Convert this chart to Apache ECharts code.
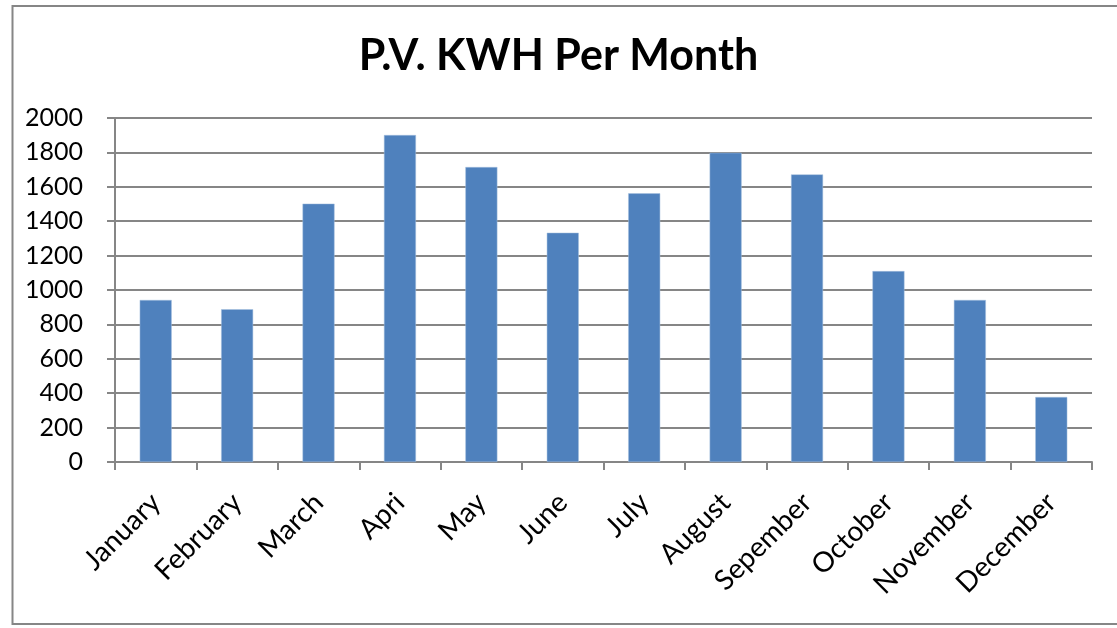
<!DOCTYPE html>
<html>
<head>
<meta charset="utf-8">
<title>P.V. KWH Per Month</title>
<script src="https://cdn.jsdelivr.net/npm/echarts@6/dist/echarts.min.js"></script>
<style>
  html, body { margin: 0; padding: 0; background: #fff; }
  #chart { width: 1117px; height: 628px; }
</style>
</head>
<body>
<div id="chart"></div>
<script>
// labels kept as they appear in the source chart
var months = ['January', 'February', 'March', 'Apri', 'May', 'June',
              'July', 'August', 'Sepember', 'October', 'November', 'December'];
var kwh = [942, 888, 1502, 1901, 1715, 1333, 1562, 1798, 1672, 1110, 942, 378];
var yTicks = [0, 200, 400, 600, 800, 1000, 1200, 1400, 1600, 1800, 2000];

var axisGray = '#868686';

var chart = echarts.init(document.getElementById('chart'));
var option = {
    animation: false,
    backgroundColor: '#fff',
    title: {
        text: 'P.V. KWH Per Month',
        left: 'center',
        top: 30,
        textStyle: {
            fontFamily: 'Lato',
            fontWeight: 'bold',
            fontSize: 43,
            color: '#000'
        }
    },
    graphic: [{
        type: 'rect',
        shape: { x: 12.5, y: 6, width: 1130, height: 618 },
        style: { fill: 'none', stroke: axisGray, lineWidth: 2 },
        silent: true
    }],
    grid: {
        left: 115,
        right: 25,
        top: 118,
        bottom: 166,
        containLabel: false
    },
    xAxis: {
        type: 'category',
        data: months,
        boundaryGap: true,
        axisLine: { lineStyle: { color: axisGray, width: 2 } },
        axisTick: { show: true, length: 8, lineStyle: { color: axisGray, width: 2 } },
        axisLabel: {
            rotate: 45,
            margin: 36,
            fontFamily: 'Lato',
            fontSize: 28,
            color: '#000',
            interval: 0
        }
    },
    yAxis: {
        type: 'value',
        min: yTicks[0],
        max: yTicks[yTicks.length - 1],
        interval: 200,
        axisLine: { show: true, lineStyle: { color: axisGray, width: 2 } },
        axisTick: { show: true, length: 8, lineStyle: { color: axisGray, width: 2 } },
        axisLabel: {
            margin: 32,
            fontFamily: 'Lato',
            fontSize: 25,
            color: '#000',
            formatter: function (v) { return String(v); }
        },
        splitLine: { lineStyle: { color: axisGray, width: 2 } }
    },
    series: [{
        name: 'KWH',
        type: 'bar',
        data: kwh,
        barWidth: 32,
        itemStyle: {
            color: '#4F81BD',
            borderColor: '#a7c0de',
            borderWidth: 0.5
        }
    }]
};
chart.setOption(option);
</script>
</body>
</html>
